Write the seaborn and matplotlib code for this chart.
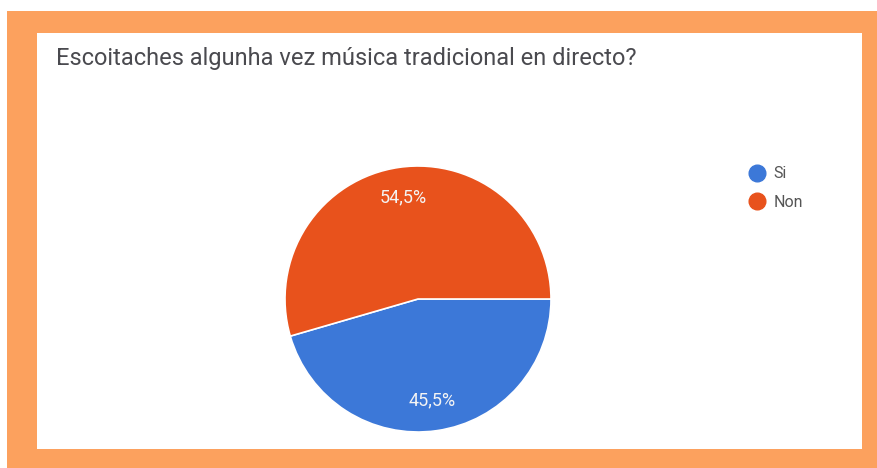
import matplotlib
matplotlib.use("Agg")
import matplotlib.pyplot as plt
from matplotlib.patches import Rectangle
from matplotlib.lines import Line2D
import numpy as np
import seaborn as sns

title = "Escoitaches algunha vez música tradicional en directo?"
categories = ["Si", "Non"]
values = [45.5, 54.5]
pct_labels = ["45,5%", "54,5%"]
colors = ["#3c78d8", "#e8521c"]

sns.set_theme(style="white")
plt.rcParams['font.family'] = ['Roboto', 'DejaVu Sans']

W, H = 877, 468
fig = plt.figure(figsize=(W / 100, H / 100), dpi=100)
fig.patch.set_facecolor("white")

def px_rect(x0, y0, x1, y1, color, z):
    fig.patches.append(Rectangle((x0 / W, 1 - y1 / H), (x1 - x0) / W, (y1 - y0) / H,
                                 transform=fig.transFigure, facecolor=color,
                                 edgecolor="none", zorder=z))

px_rect(7, 11, 877, 468, "#fca15e", 0)
px_rect(37, 33, 862, 449, "white", 1)

fig.text(56 / W, 1 - 59 / H, title, fontsize=17, color="#4a4a4f",
         ha="left", va="center", zorder=3)

cx, cy, r = 418, 299, 133
ax = fig.add_axes([(cx - r) / W, (H - cy - r) / H, 2 * r / W, 2 * r / H])
ax.set_zorder(2)
ax.patch.set_alpha(0)
wedges, _ = ax.pie(values, colors=sns.color_palette(colors), startangle=0,
                   counterclock=False, radius=1,
                   wedgeprops=dict(edgecolor="white", linewidth=1.2))
for w, lab in zip(wedges, pct_labels):
    ang = np.deg2rad((w.theta1 + w.theta2) / 2)
    ax.text(0.77 * np.cos(ang), 0.77 * np.sin(ang), lab, ha="center", va="center",
            color="#f4f4f4", fontsize=13)
ax.set_xlim(-1, 1)
ax.set_ylim(-1, 1)
ax.set_aspect("equal")
ax.axis("off")

handles = [Line2D([], [], marker="o", linestyle="", markersize=12,
                  markerfacecolor=c, markeredgecolor=c) for c in colors]
fig.legend(handles, categories, loc="upper left",
           bbox_to_anchor=(739 / W, 1 - 160 / H), frameon=False,
           fontsize=11.5, labelcolor="#555555", handletextpad=0.35,
           labelspacing=0.85, borderaxespad=0, handlelength=1.4)

fig.savefig("out.png", dpi=100)
